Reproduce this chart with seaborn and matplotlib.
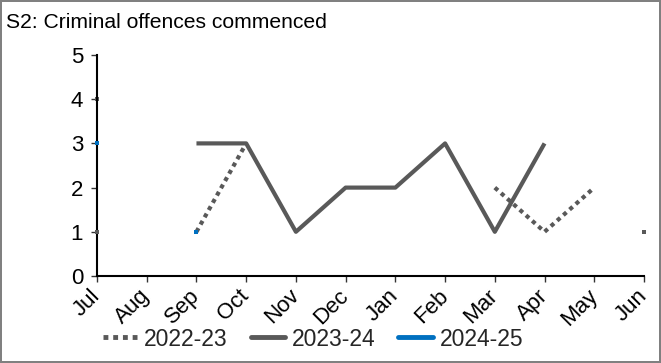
import numpy as np
import pandas as pd
import matplotlib
matplotlib.use("Agg")
import matplotlib.pyplot as plt
import seaborn as sns
from matplotlib.lines import Line2D

months = ['Jul', 'Aug', 'Sep', 'Oct', 'Nov', 'Dec', 'Jan', 'Feb', 'Mar', 'Apr', 'May', 'Jun']
s2022_23 = [4, np.nan, 1, 3, np.nan, np.nan, np.nan, np.nan, 2, 1, 2, np.nan]
s2023_24 = [1, np.nan, 3, 3, 1, 2, 2, 3, 1, 3, np.nan, 1]
s2024_25 = [3, np.nan, 1, np.nan, np.nan, np.nan, np.nan, np.nan, np.nan, np.nan, np.nan, np.nan]
series_names = ['2022-23', '2023-24', '2024-25']
title = 'S2: Criminal offences commenced'
yticks = [0, 1, 2, 3, 4, 5]

GREY = '#595959'
BLUE = '#0070C0'
styles = {
    '2022-23': dict(color=GREY, ls=(0, (1, 1)), z=2),
    '2023-24': dict(color=GREY, ls='-', z=3),
    '2024-25': dict(color=BLUE, ls='-', z=4),
}

sns.set_style('white')
plt.rcParams['font.family'] = ['Liberation Sans', 'DejaVu Sans']

fig = plt.figure(figsize=(6.61, 3.63), dpi=100)
fig.patch.set_edgecolor('#808080')
fig.patch.set_linewidth(1.5)
ax = fig.add_axes([97 / 661, 1 - 276 / 363, (644 - 97) / 661, (276 - 55) / 363])

for name, vals in zip(series_names, [s2022_23, s2023_24, s2024_25]):
    df = pd.DataFrame({'x': np.arange(len(months)), 'y': vals})
    isnan = df['y'].isna()
    df['seg'] = isnan.cumsum()
    df = df[~isnan]
    st = styles[name]
    counts = df.groupby('seg')['y'].transform('size')
    lines = df[counts > 1]
    singles = df[counts == 1]
    if len(lines):
        sns.lineplot(data=lines, x='x', y='y', units='seg', estimator=None, ax=ax,
                     color=st['color'], linewidth=3, linestyle=st['ls'], zorder=st['z'],
                     legend=False, sort=False)
        for ln in ax.lines[-lines['seg'].nunique():]:
            ln.set_dash_capstyle('butt')
            ln.set_solid_capstyle('butt')
            ln.set_clip_on(False)
    if len(singles):
        sns.scatterplot(data=singles, x='x', y='y', ax=ax, color=st['color'], marker='s',
                        s=9, linewidth=0, zorder=st['z'] + 0.5, legend=False, clip_on=False)

ax.set_xlim(0, len(months) - 1)
ax.set_ylim(0, 5)
ax.set_yticks(yticks)
ax.set_xticks(np.arange(len(months)))
ax.set_xticklabels(months, rotation=45, ha='right', va='center', rotation_mode='anchor')
ax.set_xlabel('')
ax.set_ylabel('')
for s in ['top', 'right']:
    ax.spines[s].set_visible(False)
for s in ['left', 'bottom']:
    ax.spines[s].set_color('black')
    ax.spines[s].set_linewidth(1.5)
ax.tick_params(axis='both', which='both', direction='out', length=4, width=1,
               color='#333333', labelsize=16, labelcolor='black', left=True, bottom=True)
ax.tick_params(axis='y', pad=6)
ax.tick_params(axis='x', pad=8)

fig.text(6 / 661, 1 - 22 / 363, title, fontsize=15.2, ha='left', va='center', color='black')

handles = [Line2D([], [], color=styles[n]['color'], lw=3.5, ls=styles[n]['ls'],
                  dash_capstyle='butt') for n in series_names]
fig.legend(handles, series_names, loc='center', bbox_to_anchor=(313 / 661, 1 - 339 / 363),
           ncol=3, frameon=False, fontsize=16.5, handlelength=1.5, handletextpad=0.3,
           columnspacing=1.0, borderaxespad=0)

fig.savefig('out.png', dpi=100)
